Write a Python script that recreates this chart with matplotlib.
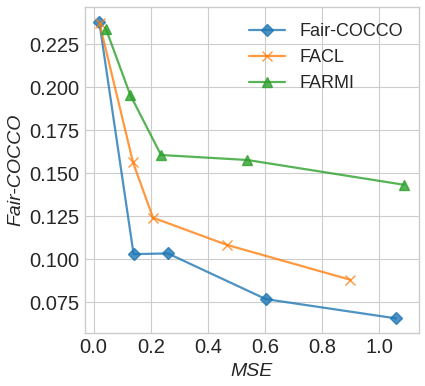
import numpy as np
import matplotlib
matplotlib.use('Agg')
import matplotlib.pyplot as plt

# values
cocco_mse = [0.020, 0.140, 0.260, 0.603, 1.058]
cocco_val = [0.2380, 0.1029, 0.1033, 0.0767, 0.0655]

facl_mse = [0.021, 0.138, 0.208, 0.466, 0.898]
facl_val = [0.2372, 0.1563, 0.1241, 0.1083, 0.0880]

farmi_mse = [0.044, 0.128, 0.236, 0.538, 1.085]
farmi_val = [0.2337, 0.1957, 0.1606, 0.1577, 0.1433]

plt.style.use('seaborn-v0_8-whitegrid')
plt.rcParams['font.family'] = 'Liberation Sans'

fig = plt.figure(figsize=(4.25, 3.86), dpi=100)
ax = fig.add_axes([0.199, 0.1365, 0.787, 0.846])

ax.plot(cocco_mse, cocco_val, marker='D', markersize=6.5, lw=1.6, color='tab:blue', alpha=0.8, label='Fair-COCCO')
ax.plot(facl_mse, facl_val, marker='x', markersize=6.5, mew=1, lw=1.6, color='tab:orange', alpha=0.8, label='FACL')
ax.plot(farmi_mse, farmi_val, marker='^', markersize=6.5, lw=1.6, color='tab:green', alpha=0.8, label='FARMI')

ax.set_xlim(-0.0315, 1.139)
ax.set_ylim(0.0568, 0.2469)
ax.set_xticks(np.arange(0, 1.01, 0.2))
ax.set_yticks([0.075, 0.1, 0.125, 0.15, 0.175, 0.2, 0.225])
ax.tick_params(labelsize=14.5)
for s in ax.spines.values():
    s.set_visible(True)
    s.set_color('#cccccc')

ax.set_xlabel('MSE', fontsize=14, style='italic')
ax.set_ylabel('Fair-COCCO', fontsize=14, style='italic')
ax.legend(fontsize=13, loc='upper right')

fig.savefig('out.png', dpi=100)
